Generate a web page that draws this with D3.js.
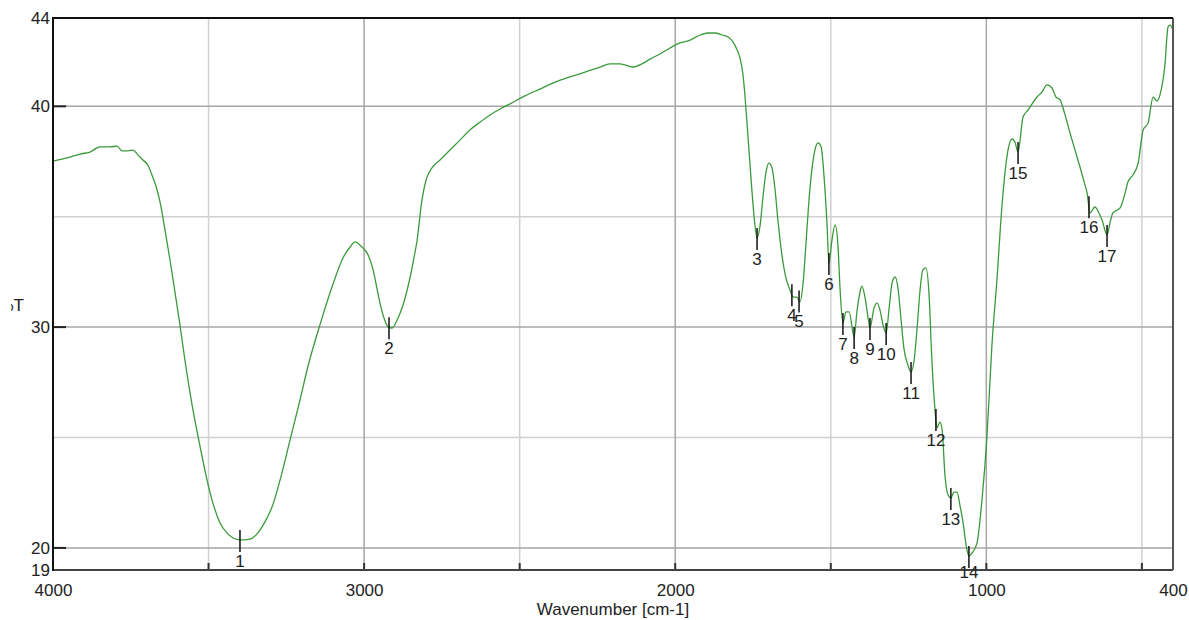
<!DOCTYPE html>
<html>
<head>
<meta charset="utf-8">
<script src="https://cdn.jsdelivr.net/npm/d3@7"></script>
<style>
  body { margin: 0; background: #fff; }
  svg { display: block; font-family: "Liberation Sans", Arial, sans-serif; }
</style>
</head>
<body>
<script>
// IR spectrum
var wavenumber = [4000,3945,3913,3881,3849,3817,3794,3778,3759,3743,3727,3711,3695,3682,3669,3656,3640,3624,3608,3592,
  3576,3560,3544,3527,3505,3486,3463,3441,3421,3399,3367,3347,3328,3312,3296,3270,3238,3206,3180,3142,
  3100,3068,3045,3029,3010,2987,2971,2959,2949,2936,2923,2910,2894,2875,2852,2840,2830,2814,2801,2782,
  2756,2724,2692,2660,2627,2595,2563,2531,2483,2435,2386,2338,2290,2242,2210,2177,2136,2107,2081,2049,
  2017,1985,1952,1920,1895,1872,1850,1830,1814,1801,1792,1782,1776,1766,1756,1747,1737,1727,1718,1708,
  1699,1689,1679,1670,1657,1644,1631,1621,1609,1599,1589,1580,1570,1560,1551,1541,1531,1522,1512,1506,
  1496,1486,1477,1470,1461,1451,1441,1425,1416,1406,1400,1390,1380,1374,1361,1351,1342,1332,1322,1313,
  1303,1293,1284,1274,1265,1252,1242,1232,1223,1213,1204,1194,1184,1175,1165,1159,1149,1142,1133,1123,
  1114,1104,1094,1085,1075,1065,1056,1046,1030,1014,998,982,966,950,934,917,908,898,882,866,
  837,821,805,789,776,763,747,731,715,699,683,676,667,651,638,628,612,602,593,570,
  554,545,529,512,496,480,464,451,442,426,416,410,400]
var transmittance = [37.52,37.70,37.84,37.93,38.16,38.16,38.20,37.98,37.98,38.02,37.80,37.57,37.34,36.89,36.39,35.67,34.40,33.04,31.59,30.10,
  28.51,27.06,25.79,24.57,23.08,22.03,21.13,20.68,20.45,20.36,20.40,20.59,20.95,21.36,21.85,23.08,24.89,26.70,28.25,30.10,
  31.95,33.13,33.63,33.86,33.67,33.27,32.59,31.77,31.09,30.41,30.01,29.96,30.32,31.00,32.27,33.13,33.90,35.76,36.66,37.21,
  37.57,38.02,38.47,38.93,39.29,39.61,39.88,40.11,40.47,40.78,41.10,41.33,41.55,41.78,41.92,41.92,41.78,41.92,42.14,42.37,
  42.64,42.87,43.00,43.23,43.32,43.32,43.23,43.14,42.91,42.55,42.19,41.42,40.51,38.61,36.66,35.08,34.04,34.63,35.89,37.03,
  37.43,37.21,36.21,34.85,33.27,32.22,31.68,31.36,31.36,31.14,32.00,33.72,35.76,37.21,38.02,38.34,38.16,36.89,34.63,32.90,
  33.95,34.63,33.72,31.68,30.19,30.69,30.69,29.55,30.69,31.59,31.86,31.36,30.41,29.96,30.87,31.09,30.78,30.10,29.73,30.78,
  32.00,32.27,31.77,30.32,29.05,28.28,27.97,28.51,29.87,31.68,32.59,32.68,31.45,28.51,26.25,25.43,25.70,25.34,23.30,22.40,
  22.26,22.53,22.53,21.94,21.17,20.13,19.63,19.77,20.22,22.17,25.02,29.19,32.13,35.44,37.70,38.52,38.38,37.93,39.52,39.83,
  40.42,40.65,40.97,40.83,40.42,40.29,39.61,38.79,38.02,37.25,36.44,36.07,35.17,35.44,35.17,34.85,34.17,34.76,35.17,35.40,
  36.07,36.57,36.89,37.43,38.93,39.25,40.42,40.24,40.51,41.87,43.59,43.68,43.46]

var peakLabels = ["1","2","3","4","5","6","7","8","9","10","11","12","13","14","15","16","17"]
var peakWn = [3399,2920,1737,1625,1602,1506,1461,1425,1374,1322,1242,1162,1114,1056,898,670,612]

var xTickLabels = [4000,3000,2000,1000,400]
var yTickLabels = [44,40,30,20,19]
var xGridMajor = [3000,2000,1000]
var xGridMinor = [3500,2500,1500,500]
var yGridMajor = [40,30,20]
var yGridMinor = [35,25]

var width = 1189, height = 620
var margin = {top:18, left:53, right:16, bottom:50}

var svg = d3.select("body").append("svg")
    .attr("width", width).attr("height", height)

var x = d3.scaleLinear().domain([4000, 400]).range([margin.left, width - margin.right])
var y = d3.scaleLinear().domain([19, 44]).range([height - margin.bottom, margin.top])

var x0 = x.range()[0], x1 = x.range()[1]
var y0 = y.range()[0], y1 = y.range()[1]

// grid
var grid = svg.append("g")
grid.selectAll(".vmin").data(xGridMinor).enter().append("line")
    .attr("x1", d => x(d)).attr("x2", d => x(d)).attr("y1", y1).attr("y2", y0)
    .attr("stroke", "#d0d0d0").attr("stroke-width", 1.5)
grid.selectAll(".hmin").data(yGridMinor).enter().append("line")
    .attr("x1", x0).attr("x2", x1).attr("y1", d => y(d)).attr("y2", d => y(d))
    .attr("stroke", "#d0d0d0").attr("stroke-width", 1.5)
grid.selectAll(".vmaj").data(xGridMajor).enter().append("line")
    .attr("x1", d => x(d)).attr("x2", d => x(d)).attr("y1", y1).attr("y2", y0)
    .attr("stroke", "#a6a6a6").attr("stroke-width", 1.5)
grid.selectAll(".hmaj").data(yGridMajor).enter().append("line")
    .attr("x1", x0).attr("x2", x1).attr("y1", d => y(d)).attr("y2", d => y(d))
    .attr("stroke", "#a6a6a6").attr("stroke-width", 1.5)

// small ticks inside the frame
svg.append("g").selectAll("line").data(yGridMajor).enter().append("line")
    .attr("x1", x0).attr("x2", x0 + 13).attr("y1", d => y(d)).attr("y2", d => y(d))
    .attr("stroke", "#222").attr("stroke-width", 2)
svg.append("g").selectAll("line").data(xGridMajor.concat(xGridMinor)).enter().append("line")
    .attr("x1", d => x(d)).attr("x2", d => x(d)).attr("y1", y0).attr("y2", y0 - 7)
    .attr("stroke", "#333").attr("stroke-width", 2)

// spectrum
var pts = wavenumber.map(function(w, i){ return [w, transmittance[i]] })
svg.append("path")
    .datum(pts)
    .attr("fill", "none")
    .attr("stroke", "#3a9a3a")
    .attr("stroke-width", 1.3)
    .attr("stroke-linejoin", "round")
    .attr("d", d3.line().x(d => x(d[0])).y(d => y(d[1])).curve(d3.curveMonotoneX))

// frame
svg.append("line").attr("x1", x0).attr("x2", x1).attr("y1", y0).attr("y2", y0).attr("stroke", "#444").attr("stroke-width", 2)
svg.append("line").attr("x1", x1).attr("x2", x1).attr("y1", y1).attr("y2", y0).attr("stroke", "#555").attr("stroke-width", 2)
svg.append("line").attr("x1", x0).attr("x2", x1).attr("y1", y1).attr("y2", y1).attr("stroke", "#111").attr("stroke-width", 2)
svg.append("line").attr("x1", x0).attr("x2", x0).attr("y1", y1 - 1).attr("y2", y0 + 1).attr("stroke", "#111").attr("stroke-width", 2)

// peak markers
function curveAt(w) {
    for (var i = 0; i < wavenumber.length - 1; i++) {
        if (wavenumber[i] >= w && wavenumber[i+1] <= w) {
            var t = (wavenumber[i] - w) / (wavenumber[i] - wavenumber[i+1])
            return transmittance[i] + t * (transmittance[i+1] - transmittance[i])
        }
    }
    return transmittance[transmittance.length - 1]
}
var peaks = svg.append("g").selectAll("g").data(peakWn).enter().append("g")
peaks.append("line")
    .attr("x1", d => x(d)).attr("x2", d => x(d))
    .attr("y1", d => y(curveAt(d)) - 10).attr("y2", d => y(curveAt(d)) + 12)
    .attr("stroke", "#111").attr("stroke-width", 1.5)
peaks.append("text")
    .attr("x", d => x(d)).attr("y", d => Math.min(y(curveAt(d)) + 27, y0 + 8))
    .attr("text-anchor", "middle")
    .attr("font-size", 17).attr("fill", "#222")
    .text((d, i) => peakLabels[i])

// axes labels
var xAxis = d3.axisBottom(x).tickValues(xTickLabels).tickSize(0).tickPadding(14).tickFormat(d3.format("d"))
var gx = svg.append("g").attr("transform", "translate(0," + y0 + ")").call(xAxis)
gx.select(".domain").remove()
gx.selectAll("text").attr("font-size", 17).attr("fill", "#222").attr("font-family", "Liberation Sans, Arial, sans-serif")

var yAxis = d3.axisLeft(y).tickValues(yTickLabels).tickSize(0).tickPadding(3)
var gy = svg.append("g").attr("transform", "translate(" + x0 + ",0)").call(yAxis)
gy.select(".domain").remove()
gy.selectAll("text").attr("font-size", 17).attr("fill", "#222").attr("font-family", "Liberation Sans, Arial, sans-serif")

svg.append("text")
    .attr("x", (x0 + x1) / 2).attr("y", 615)
    .attr("text-anchor", "middle").attr("font-size", 17).attr("fill", "#222")
    .text("Wavenumber [cm-1]")

// y title, cut at the left edge like the original
svg.append("clipPath").attr("id", "yclip")
    .append("rect").attr("x", 11).attr("y", 280).attr("width", 40).attr("height", 50)
svg.append("text")
    .attr("clip-path", "url(#yclip)")
    .attr("x", 24).attr("y", 311)
    .attr("text-anchor", "end").attr("font-size", 17).attr("fill", "#222")
    .text("%T")
</script>
</body>
</html>
